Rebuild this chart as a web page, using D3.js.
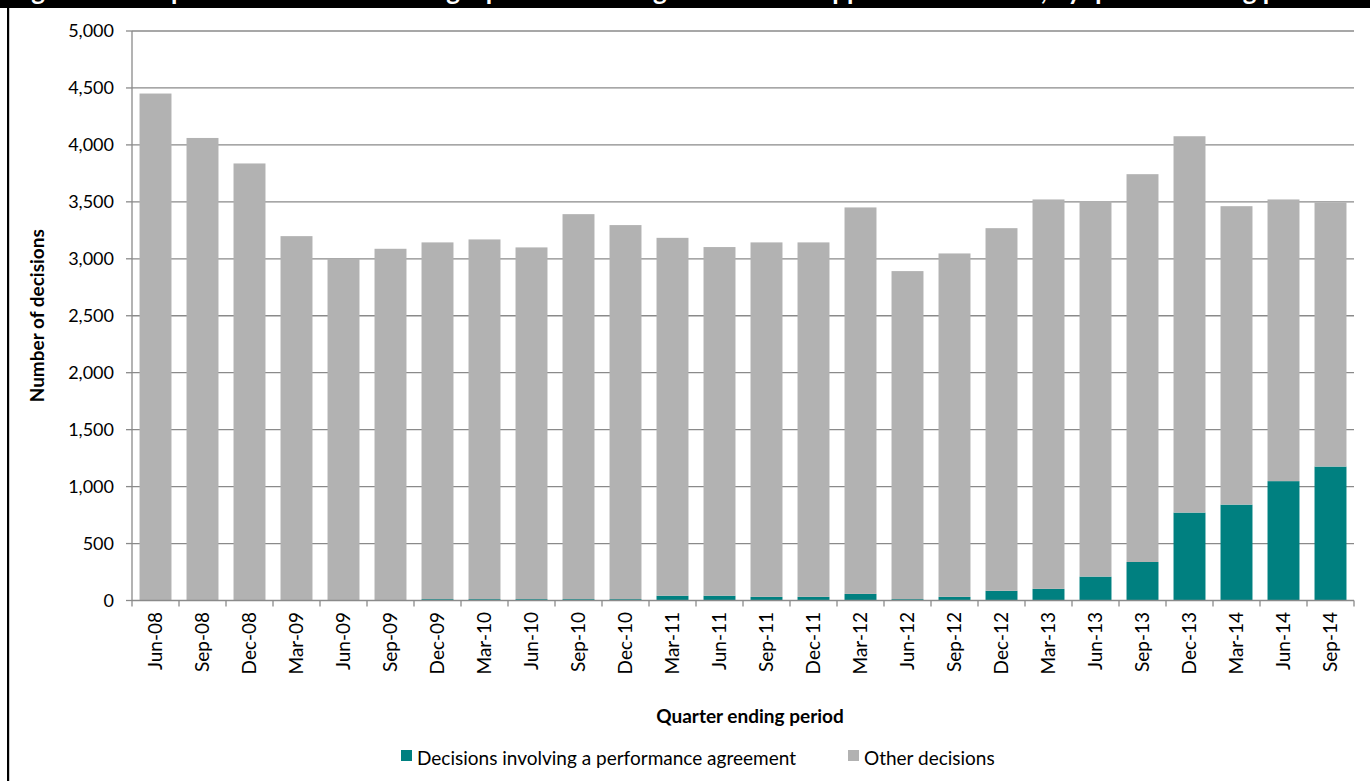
<html>
    <head>
        <title>Decisions by quarter</title>
        <script src="https://d3js.org/d3.v7.min.js"></script>
    </head>

    <style>
        body {
        margin: 0;
        background-color: #fff;
        }

        svg {
        display: block;
        font-family: Lato, 'Open Sans', sans-serif;
        }

        .grid line {
        stroke: #8a8a8a;
        stroke-width: 1.3;
        }

        .axis-line {
        stroke: #8a8a8a;
        stroke-width: 1.3;
        }

        text.ytick {
        font-size: 18px;
        fill: #000;
        }

        text.xtick {
        font-size: 19px;
        fill: #000;
        }

        text.label {
        font-size: 19px;
        font-weight: 700;
        fill: #000;
        }

        text.legend {
        font-size: 19px;
        fill: #000;
        }

        text.title {
        font-size: 26px;
        font-weight: 700;
        fill: #fff;
        }
    </style>

    <body>
        <svg width="1370" height="781"></svg>

    <script>
        const quarters = ['Jun-08', 'Sep-08', 'Dec-08', 'Mar-09', 'Jun-09', 'Sep-09', 'Dec-09', 'Mar-10',
            'Jun-10', 'Sep-10', 'Dec-10', 'Mar-11', 'Jun-11', 'Sep-11', 'Dec-11', 'Mar-12', 'Jun-12',
            'Sep-12', 'Dec-12', 'Mar-13', 'Jun-13', 'Sep-13', 'Dec-13', 'Mar-14', 'Jun-14', 'Sep-14'];

        const agreementDecisions = [0, 0, 0, 0, 0, 0, 12, 12, 12, 12, 12, 42, 42, 32, 32, 58, 12,
            32, 85, 102, 210, 338, 772, 842, 1048, 1176];

        const otherDecisions = [4451, 4061, 3837, 3199, 3000, 3088, 3132, 3158, 3088, 3380, 3284, 3142,
            3061, 3112, 3112, 3393, 2880, 3015, 3184, 3419, 3296, 3405, 3304, 2620, 2473, 2319];

        const yTicks = [0, 500, 1000, 1500, 2000, 2500, 3000, 3500, 4000, 4500, 5000];

        const seriesNames = ['Decisions involving a performance agreement', 'Other decisions'];
        const seriesColors = ['#008080', '#b2b2b2'];

        const svg = d3.select('svg');

        const plotLeft = 132;
        const plotRight = 1354;
        const plotTop = 31;
        const plotBottom = 600.5;

        // frame + title band (title text runs off the top edge)
        svg.append('rect')
        .attr('x', 0)
        .attr('y', 0)
        .attr('width', 1370)
        .attr('height', 8)
        .attr('fill', '#000');

        svg.append('text')
        .attr('class', 'title')
        .attr('x', 10)
        .attr('y', 0)
        .text('Figure 4: Complaint decisions involving a performance agreement and approved decisions, by quarter ending period');

        svg.append('rect')
        .attr('x', 7)
        .attr('y', 8)
        .attr('width', 2.2)
        .attr('height', 781)
        .attr('fill', '#000');

        const rows = quarters.map((q, i) => ({
            quarter: q,
            agreement: agreementDecisions[i],
            other: otherDecisions[i]
        }));

        const xScale = d3.scaleBand()
        .range([plotLeft, plotRight])
        .domain(quarters)
        .paddingInner(0.32)
        .paddingOuter(0.16);

        const yScale = d3.scaleLinear()
        .range([plotBottom, plotTop])
        .domain([0, 5000]);

        const stacked = d3.stack().keys(['agreement', 'other'])(rows);

        // gridlines
        svg.append('g')
        .attr('class', 'grid')
        .selectAll('line')
        .data(yTicks.slice(1))
        .enter()
        .append('line')
        .attr('x1', plotLeft)
        .attr('x2', plotRight)
        .attr('y1', (d) => yScale(d))
        .attr('y2', (d) => yScale(d));

        // bars
        svg.append('g')
        .selectAll('g')
        .data(stacked)
        .enter()
        .append('g')
        .attr('fill', (s, i) => seriesColors[i])
        .selectAll('rect')
        .data((s) => s)
        .enter()
        .append('rect')
        .attr('x', (d) => xScale(d.data.quarter))
        .attr('y', (d) => yScale(d[1]))
        .attr('height', (d) => yScale(d[0]) - yScale(d[1]))
        .attr('width', xScale.bandwidth());

        // y axis
        svg.append('line')
        .attr('class', 'axis-line')
        .attr('x1', plotLeft)
        .attr('x2', plotLeft)
        .attr('y1', plotTop)
        .attr('y2', plotBottom);

        svg.append('g')
        .selectAll('line')
        .data(yTicks)
        .enter()
        .append('line')
        .attr('class', 'axis-line')
        .attr('x1', plotLeft - 6)
        .attr('x2', plotLeft)
        .attr('y1', (d) => yScale(d))
        .attr('y2', (d) => yScale(d));

        svg.append('g')
        .selectAll('text')
        .data(yTicks)
        .enter()
        .append('text')
        .attr('class', 'ytick')
        .attr('x', plotLeft - 18)
        .attr('y', (d) => yScale(d))
        .attr('dy', '0.35em')
        .attr('text-anchor', 'end')
        .text((d) => d3.format(',')(d));

        // x axis
        svg.append('line')
        .attr('class', 'axis-line')
        .attr('x1', plotLeft)
        .attr('x2', plotRight)
        .attr('y1', plotBottom)
        .attr('y2', plotBottom);

        const step = xScale.step();
        const edges = quarters.map((q) => xScale(q) - (step - xScale.bandwidth()) / 2)
        .concat([plotRight]);

        svg.append('g')
        .selectAll('line')
        .data(edges)
        .enter()
        .append('line')
        .attr('class', 'axis-line')
        .attr('x1', (d) => d)
        .attr('x2', (d) => d)
        .attr('y1', plotBottom)
        .attr('y2', plotBottom + 6);

        svg.append('g')
        .selectAll('text')
        .data(quarters)
        .enter()
        .append('text')
        .attr('class', 'xtick')
        .attr('transform', (q) => `translate(${xScale(q) + xScale.bandwidth() / 2}, 612) rotate(-90)`)
        .attr('dy', '0.35em')
        .attr('text-anchor', 'end')
        .text((q) => q);

        // axis titles
        svg.append('text')
        .attr('class', 'label')
        .attr('transform', `translate(44, ${(plotTop + plotBottom) / 2}) rotate(-90)`)
        .attr('text-anchor', 'middle')
        .text('Number of decisions');

        svg.append('text')
        .attr('class', 'label')
        .attr('x', 750)
        .attr('y', 723)
        .attr('text-anchor', 'middle')
        .text('Quarter ending period');

        // legend
        const legendX = [401, 848];

        const legend = svg.append('g')
        .selectAll('g')
        .data(seriesNames)
        .enter()
        .append('g')
        .attr('transform', (d, i) => `translate(${legendX[i]}, 750)`);

        legend.append('rect')
        .attr('width', 11)
        .attr('height', 11)
        .attr('fill', (d, i) => seriesColors[i]);

        legend.append('text')
        .attr('class', 'legend')
        .attr('x', 16)
        .attr('y', 15)
        .text((d) => d);
    </script>
    </body>
</html>
